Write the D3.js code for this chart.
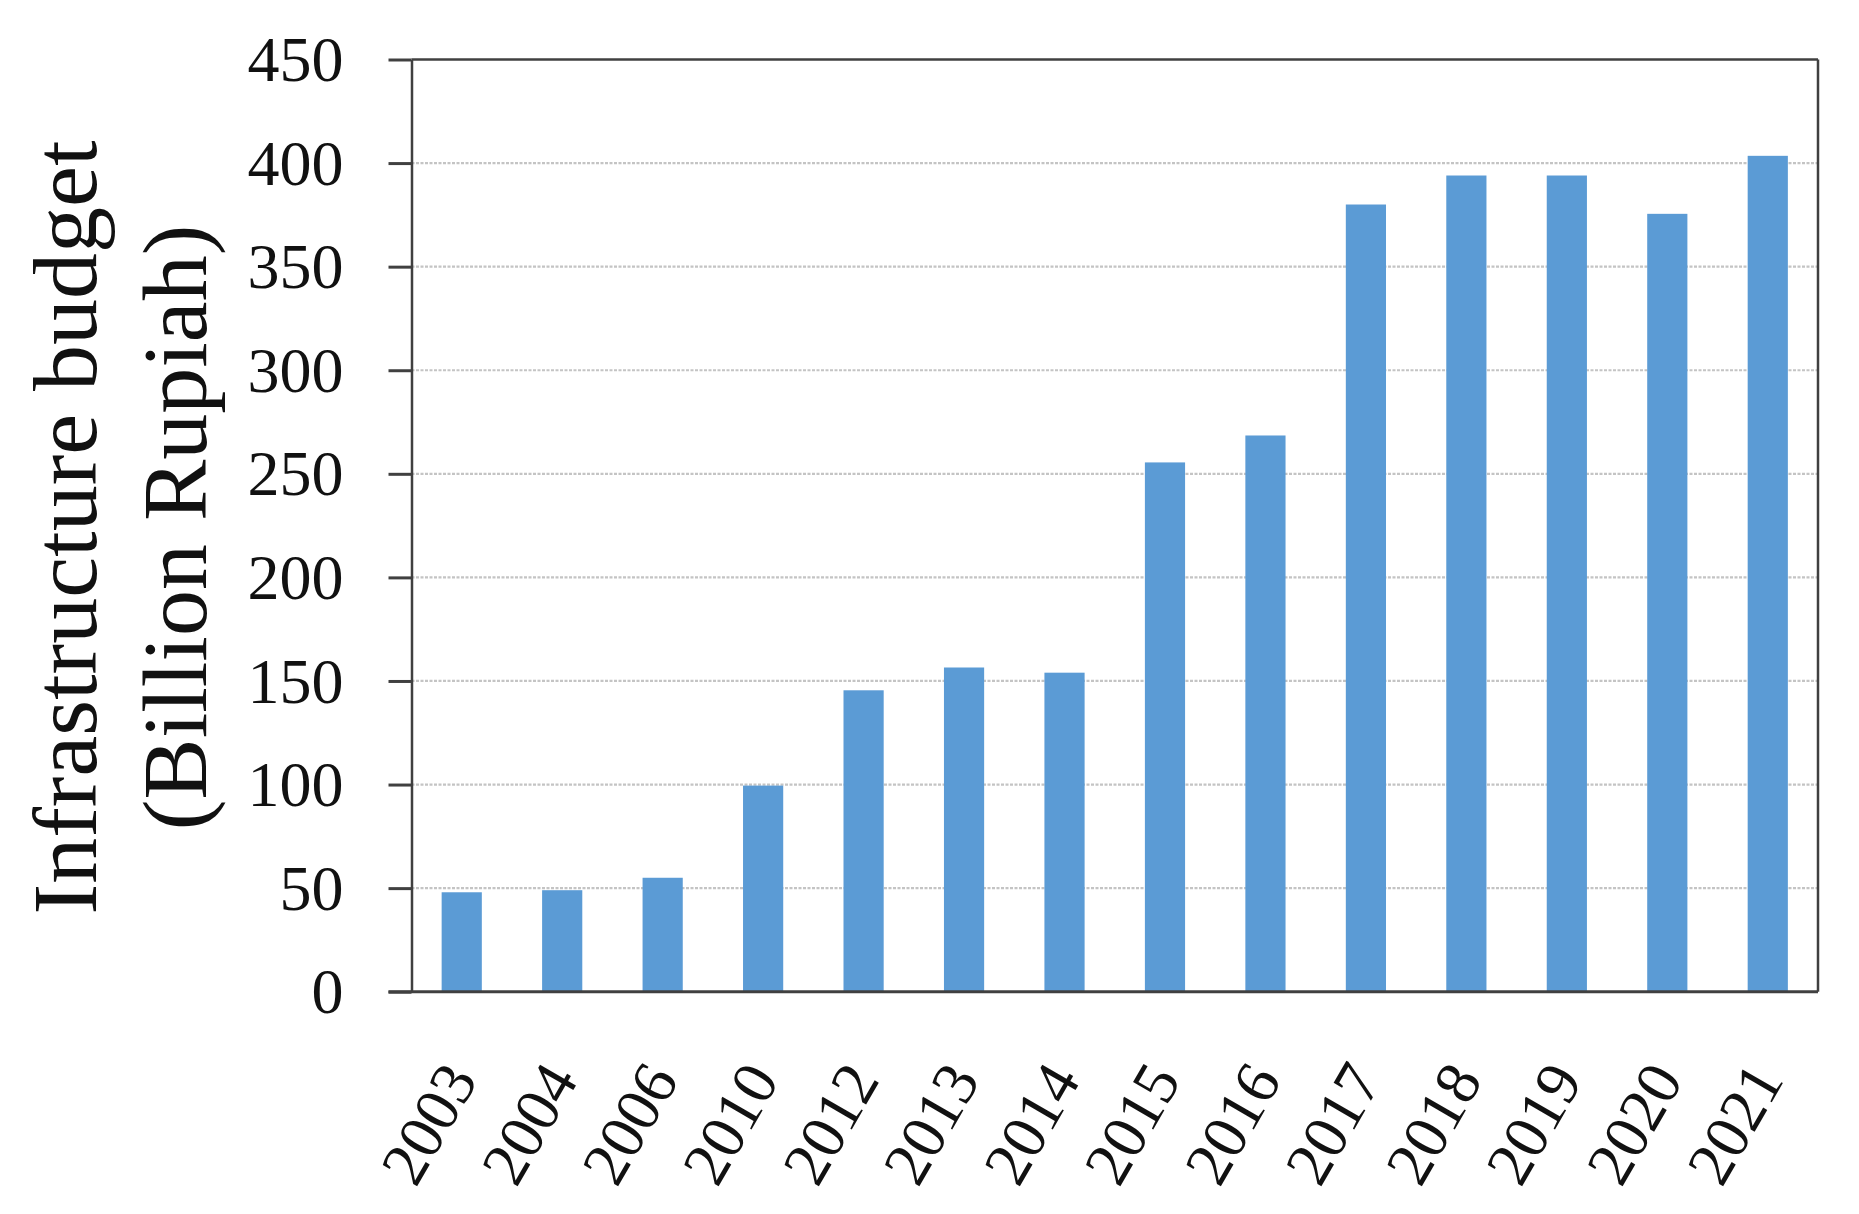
<!DOCTYPE html>
<html>
<head>
<meta charset="utf-8">
<script src="https://cdn.jsdelivr.net/npm/d3@7"></script>
<style>
  html, body { margin: 0; padding: 0; background: #fff; }
  svg { display: block; }
</style>
</head>
<body>
<svg id="chart" width="1859" height="1214"></svg>
<script>
const years = ["2003","2004","2006","2010","2012","2013","2014","2015","2016","2017","2018","2019","2020","2021"];
const budget = [48, 49, 55, 99.5, 145.5, 156.5, 154, 255.5, 268.5, 380, 394, 394, 375.5, 403.5];
const yTicks = [0, 50, 100, 150, 200, 250, 300, 350, 400, 450];
const yTitleLines = ["Infrastructure budget", "(Billion Rupiah)"];

const svg = d3.select("#chart");
const margin = { left: 411.5, right: 1818, top: 59.5, bottom: 991.7 };
const serif = "'Liberation Serif', 'DejaVu Serif', serif";

const x = d3.scaleBand().domain(years).range([margin.left, margin.right])
  .paddingInner(0.6).paddingOuter(0.3);
const y = d3.scaleLinear().domain([0, 450]).range([margin.bottom, margin.top]);

// gridlines
svg.append("g").selectAll("line").data(yTicks.filter(d => d > 0 && d < 450)).join("line")
  .attr("x1", margin.left).attr("x2", margin.right)
  .attr("y1", d => y(d)).attr("y2", d => y(d))
  .attr("stroke", "#c4c4c4").attr("stroke-width", 2.2).attr("stroke-dasharray", "3,1.5");

// bars
svg.append("g").selectAll("rect").data(years).join("rect")
  .attr("x", d => x(d)).attr("width", x.bandwidth())
  .attr("y", (d, i) => y(budget[i])).attr("height", (d, i) => y(0) - y(budget[i]))
  .attr("fill", "#5B9BD5");

// frame top/right
svg.append("line").attr("x1", margin.left).attr("x2", margin.right)
  .attr("y1", margin.top).attr("y2", margin.top).attr("stroke", "#404040").attr("stroke-width", 2.5);
svg.append("line").attr("x1", margin.right).attr("x2", margin.right)
  .attr("y1", margin.top).attr("y2", margin.bottom).attr("stroke", "#404040").attr("stroke-width", 2.5);

// y axis
const yAxis = svg.append("g").attr("transform", `translate(${margin.left},0)`)
  .call(d3.axisLeft(y).tickValues(yTicks).tickSize(23).tickPadding(45).tickSizeOuter(0));
yAxis.select(".domain").attr("stroke", "#404040").attr("stroke-width", 2.5);
yAxis.selectAll(".tick line").attr("stroke", "#404040").attr("stroke-width", 3);
yAxis.selectAll(".tick text").attr("font-family", serif).attr("font-size", 64)
  .attr("fill", "#111").attr("dy", "0.33em");

// x axis
const xAxis = svg.append("g").attr("transform", `translate(0,${margin.bottom})`)
  .call(d3.axisBottom(x).tickSize(0).tickSizeOuter(0).tickFormat(""));
xAxis.select(".domain").remove();
svg.append("line").attr("x1", margin.left - 23).attr("x2", margin.right)
  .attr("y1", margin.bottom).attr("y2", margin.bottom)
  .attr("stroke", "#404040").attr("stroke-width", 3);

svg.append("g").selectAll("text").data(years).join("text")
  .attr("transform", d => `translate(${x(d) + x.bandwidth() / 2 + 17},${margin.bottom + 88}) rotate(-60)`)
  .attr("text-anchor", "end")
  .attr("font-family", serif).attr("font-size", 63).attr("fill", "#111")
  .text(d => d);

// y title
const titleCenterY = 527.5;
const baselines = [96, 206];
yTitleLines.forEach((t, i) => {
  svg.append("text")
    .attr("transform", `translate(${baselines[i]},${titleCenterY}) rotate(-90)`)
    .attr("text-anchor", "middle")
    .attr("font-family", serif).attr("font-size", 92).attr("fill", "#111")
    .text(t);
});
</script>
</body>
</html>
